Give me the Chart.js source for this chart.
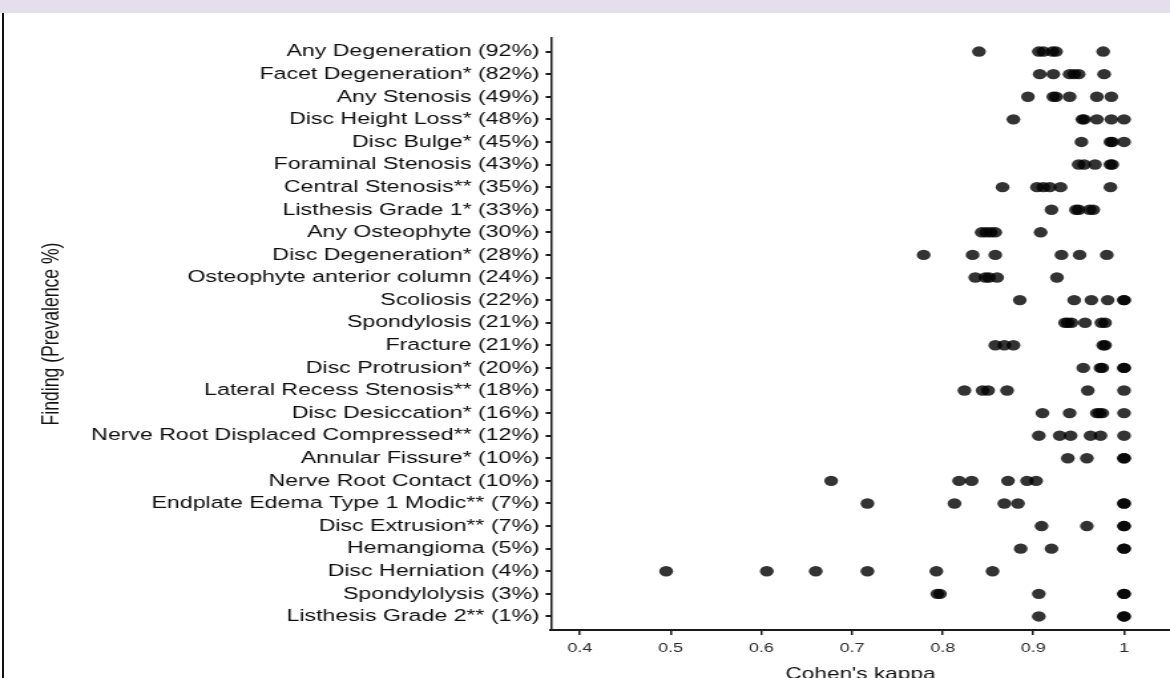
<!DOCTYPE html>
<html>
<head>
<meta charset="utf-8">
<script src="https://cdn.jsdelivr.net/npm/chart.js@4"></script>
<style>
  html, body { margin: 0; padding: 0; background: #fff; overflow: hidden; }
  body { width: 1170px; height: 678px; position: relative; }
  .band { position: absolute; left: 0; top: 0; width: 1170px; height: 13px; background: #e4dfeb; }
  .edge { position: absolute; left: 2px; top: 13px; width: 2px; height: 665px; background: #111; }
  /* the source image is stretched sideways, so the chart is drawn narrow and scaled */
  .wrap { position: absolute; left: 0; top: 0; width: 880px; height: 678px; transform: scaleX(1.32955); transform-origin: 0 0; }
</style>
</head>
<body>
<div class="wrap"><canvas id="kappaChart" width="880" height="678"></canvas></div>
<div class="band"></div>
<div class="edge"></div>
<script>
const findings = [
  "Any Degeneration (92%)", "Facet Degeneration* (82%)", "Any Stenosis (49%)",
  "Disc Height Loss* (48%)", "Disc Bulge* (45%)", "Foraminal Stenosis (43%)",
  "Central Stenosis** (35%)", "Listhesis Grade 1* (33%)", "Any Osteophyte (30%)",
  "Disc Degeneration* (28%)", "Osteophyte anterior column (24%)", "Scoliosis (22%)",
  "Spondylosis (21%)", "Fracture (21%)", "Disc Protrusion* (20%)",
  "Lateral Recess Stenosis** (18%)", "Disc Desiccation* (16%)",
  "Nerve Root Displaced Compressed** (12%)", "Annular Fissure* (10%)",
  "Nerve Root Contact (10%)", "Endplate Edema Type 1 Modic** (7%)",
  "Disc Extrusion** (7%)", "Hemangioma (5%)", "Disc Herniation (4%)",
  "Spondylolysis (3%)", "Listhesis Grade 2** (1%)"
];

// Cohen's kappa per reader pair, one array per finding
const anyDegeneration = [0.840, 0.906, 0.911, 0.921, 0.925, 0.977];
const facetDegeneration = [0.907, 0.922, 0.940, 0.945, 0.950, 0.978];
const anyStenosis = [0.894, 0.922, 0.925, 0.940, 0.970, 0.986];
const discHeightLoss = [0.878, 0.954, 0.956, 0.970, 0.986, 1.0];
const discBulge = [0.953, 0.985, 0.987, 1.0];
const foraminalStenosis = [0.950, 0.956, 0.968, 0.985, 0.987];
const centralStenosis = [0.866, 0.904, 0.911, 0.918, 0.930, 0.985];
const listhesisGrade1 = [0.920, 0.947, 0.950, 0.962, 0.966];
const anyOsteophyte = [0.843, 0.848, 0.853, 0.858, 0.908];
const discDegeneration = [0.779, 0.833, 0.858, 0.931, 0.951, 0.981];
const osteophyteAnterior = [0.836, 0.847, 0.851, 0.860, 0.926];
const scoliosis = [0.885, 0.945, 0.964, 0.982, 1.0, 1.0];
const spondylosis = [0.935, 0.938, 0.942, 0.957, 0.975, 0.979];
const fracture = [0.858, 0.868, 0.878, 0.977, 0.979];
const discProtrusion = [0.955, 0.974, 0.976, 1.0, 1.0];
const lateralRecess = [0.824, 0.844, 0.850, 0.871, 0.960, 1.0];
const discDesiccation = [0.910, 0.940, 0.970, 0.973, 0.976, 1.0];
const nerveRootDisplaced = [0.906, 0.929, 0.941, 0.963, 0.974, 1.0];
const annularFissure = [0.938, 0.959, 1.0, 1.0];
const nerveRootContact = [0.677, 0.818, 0.832, 0.872, 0.893, 0.903];
const endplateEdema = [0.717, 0.813, 0.868, 0.883, 1.0, 1.0];
const discExtrusion = [0.909, 0.959, 1.0, 1.0];
const hemangioma = [0.886, 0.920, 1.0, 1.0];
const discHerniation = [0.495, 0.606, 0.660, 0.717, 0.793, 0.855];
const spondylolysis = [0.794, 0.797, 0.906, 1.0, 1.0];
const listhesisGrade2 = [0.906, 1.0, 1.0];

const kappaTicks = [0.4, 0.5, 0.6, 0.7, 0.8, 0.9, 1];

const kappaRows = [
  anyDegeneration, facetDegeneration, anyStenosis, discHeightLoss, discBulge,
  foraminalStenosis, centralStenosis, listhesisGrade1, anyOsteophyte,
  discDegeneration, osteophyteAnterior, scoliosis, spondylosis, fracture,
  discProtrusion, lateralRecess, discDesiccation, nerveRootDisplaced,
  annularFissure, nerveRootContact, endplateEdema, discExtrusion, hemangioma,
  discHerniation, spondylolysis, listhesisGrade2
];

const points = [];
kappaRows.forEach((row, i) => {
  row.forEach((k) => points.push({ x: k, y: i + 1 }));
});

const font = "'Liberation Sans', Arial, sans-serif";
const ink = "#1a1a1a";

new Chart(document.getElementById("kappaChart"), {
  type: "scatter",
  data: {
    datasets: [
      {
        data: points,
        backgroundColor: "rgba(0,0,0,0.8)",
        borderWidth: 0,
        pointRadius: 5.2,
        pointHoverRadius: 5.2,
      },
    ],
  },
  options: {
    responsive: false,
    animation: false,
    layout: { autoPadding: false, padding: { left: 25, top: 38, right: 0, bottom: 0 } },
    plugins: { legend: { display: false }, tooltip: { enabled: false } },
    scales: {
      x: {
        type: "linear",
        min: 0.368,
        max: 1.0507,
        afterBuildTicks: (scale) => {
          scale.ticks = kappaTicks.map((v) => ({ value: v }));
        },
        afterFit: (scale) => {
          scale.height = 48;
        },
        ticks: {
          callback: (v) => String(v),
          color: "#2a2a2a",
          font: { family: font, size: 13.5 },
          padding: 5,
          maxRotation: 0,
          autoSkip: false,
        },
        grid: { drawOnChartArea: false, tickLength: 5, color: ink, lineWidth: 1.5 },
        border: { display: true, color: ink, width: 2 },
        title: {
          display: true,
          text: "Cohen's kappa",
          color: "#111",
          font: { family: font, size: 17 },
          padding: { top: 0, bottom: -7 },
        },
      },
      y: {
        type: "linear",
        reverse: true,
        min: 0.4,
        max: 26.6,
        afterBuildTicks: (scale) => {
          scale.ticks = findings.map((_, i) => ({ value: i + 1 }));
        },
        afterFit: (scale) => {
          scale.width = 389.4;
        },
        ticks: {
          callback: (v) => findings[v - 1],
          color: "#0d0d0d",
          font: { family: font, size: 17.4, lineHeight: 1 },
          padding: 4.5,
          autoSkip: false,
        },
        grid: { drawOnChartArea: false, tickLength: 4, color: ink, lineWidth: 2 },
        border: { display: true, color: ink, width: 1.5 },
        title: {
          display: true,
          text: "Finding (Prevalence %)",
          color: "#111",
          font: { family: font, size: 17.6 },
          padding: { top: 4, bottom: 0 },
        },
      },
    },
  },
});
</script>
</body>
</html>
